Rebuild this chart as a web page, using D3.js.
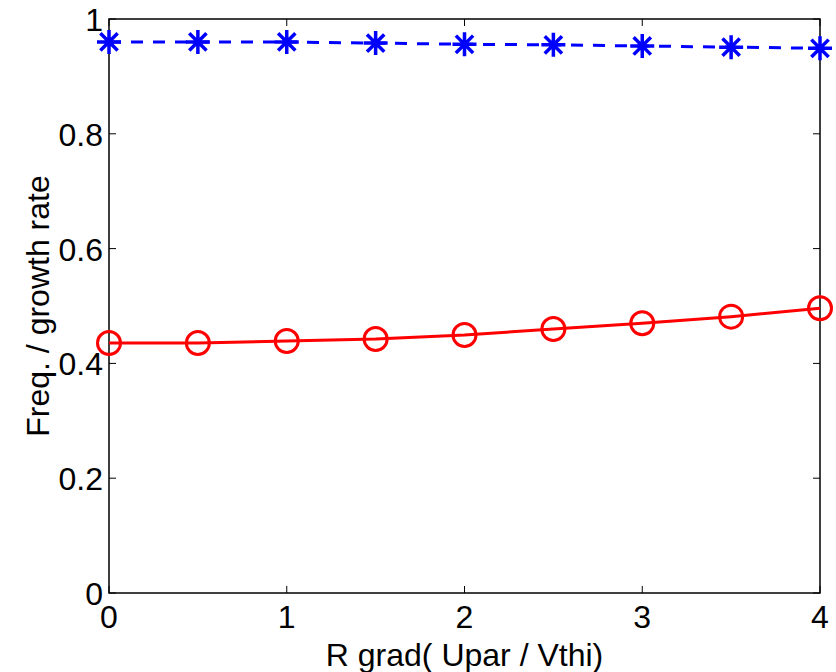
<!DOCTYPE html>
<html>
<head>
<meta charset="utf-8">
<script src="https://cdn.jsdelivr.net/npm/d3@7"></script>
<style>
  body { margin: 0; background: #fff; }
  text { font-family: "Liberation Sans", Arial, sans-serif; }
</style>
</head>
<body>
<div id="chart"></div>
<script>
const xValues = [0, 0.5, 1, 1.5, 2, 2.5, 3, 3.5, 4];
const freqValues = [0.960, 0.960, 0.960, 0.958, 0.956, 0.955, 0.953, 0.951, 0.949];
const growthValues = [0.4355, 0.4355, 0.439, 0.4425, 0.4495, 0.460, 0.470, 0.4814, 0.496];
const xTicks = [0, 1, 2, 3, 4];
const yTicks = [0, 0.2, 0.4, 0.6, 0.8, 1];

const W = 836, H = 672;
const margin = {top: 19, right: 16, bottom: 79, left: 109};
const width = W - margin.left - margin.right;
const height = H - margin.top - margin.bottom;
const fs = '32px';

const svg = d3.select('#chart').append('svg')
    .attr('width', W).attr('height', H);
const g = svg.append('g')
    .attr('transform', `translate(${margin.left},${margin.top})`);

const x = d3.scaleLinear().domain([0, 4]).range([0, width]);
const y = d3.scaleLinear().domain([0, 1]).range([height, 0]);

// box
g.append('rect')
    .attr('width', width).attr('height', height)
    .attr('fill', 'none').attr('stroke', '#000').attr('stroke-width', 1.5);

// ticks (inward, all four sides)
const tl = 7;
xTicks.forEach(t => {
    g.append('line').attr('x1', x(t)).attr('x2', x(t)).attr('y1', height).attr('y2', height - tl)
        .attr('stroke', '#000').attr('stroke-width', 1);
    g.append('line').attr('x1', x(t)).attr('x2', x(t)).attr('y1', 0).attr('y2', tl)
        .attr('stroke', '#000').attr('stroke-width', 1);
    g.append('text').attr('x', x(t)).attr('y', height + 35)
        .attr('text-anchor', 'middle').style('font-size', fs).text(d3.format('d')(t));
});
yTicks.forEach(t => {
    g.append('line').attr('x1', 0).attr('x2', tl).attr('y1', y(t)).attr('y2', y(t))
        .attr('stroke', '#000').attr('stroke-width', 1);
    g.append('line').attr('x1', width).attr('x2', width - tl).attr('y1', y(t)).attr('y2', y(t))
        .attr('stroke', '#000').attr('stroke-width', 1);
    g.append('text').attr('x', -6).attr('y', y(t) + 12)
        .attr('text-anchor', 'end').style('font-size', fs).text(t === 0 || t === 1 ? t : t.toFixed(1));
});

// lines
const line = (vals) => d3.line().x((d, i) => x(xValues[i])).y(d => y(d))(vals);

g.append('path').attr('d', line(freqValues))
    .attr('fill', 'none').attr('stroke', '#0000ff').attr('stroke-width', 3)
    .attr('stroke-dasharray', '12,10');

g.append('path').attr('d', line(growthValues))
    .attr('fill', 'none').attr('stroke', '#ff0000').attr('stroke-width', 3);

// star markers
const s = 12;
const starPath = `M${-s},0L${s},0M0,${-s}L0,${s}M${-s*0.72},${-s*0.72}L${s*0.72},${s*0.72}M${-s*0.72},${s*0.72}L${s*0.72},${-s*0.72}`;
g.selectAll('.star').data(freqValues).enter().append('path')
    .attr('class', 'star')
    .attr('transform', (d, i) => `translate(${x(xValues[i])},${y(d)})`)
    .attr('d', starPath)
    .attr('stroke', '#0000ff').attr('stroke-width', 3.5).attr('fill', 'none');

// circle markers
g.selectAll('.circ').data(growthValues).enter().append('circle')
    .attr('class', 'circ')
    .attr('cx', (d, i) => x(xValues[i])).attr('cy', d => y(d))
    .attr('r', 11.5)
    .attr('fill', 'none').attr('stroke', '#ff0000').attr('stroke-width', 3);

// axis labels
svg.append('text').attr('x', margin.left + width / 2).attr('y', 666)
    .attr('text-anchor', 'middle').style('font-size', fs).text('R grad( Upar / Vthi)');
svg.append('text')
    .attr('transform', `translate(49,${margin.top + height / 2}) rotate(-90)`)
    .attr('text-anchor', 'middle').style('font-size', fs).text('Freq. / growth rate');
</script>
</body>
</html>
